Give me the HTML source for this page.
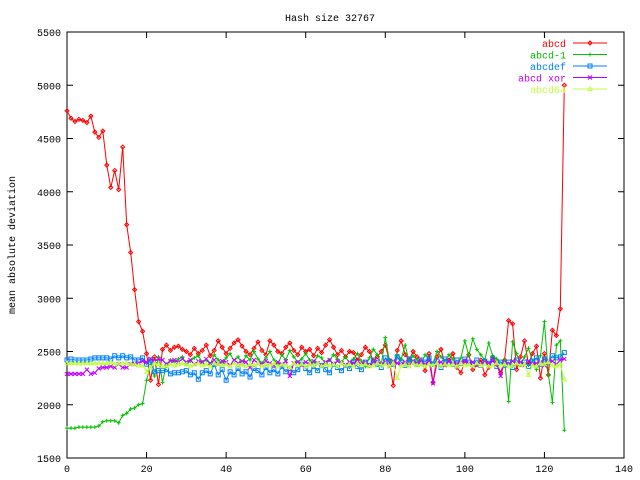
<!DOCTYPE html>
<html><head><meta charset="utf-8"><style>
body{margin:0;background:#fff}
svg{display:block;font-family:"Liberation Mono","DejaVu Sans Mono",monospace;font-size:10px}
</style></head><body>
<svg id="chart" width="640" height="480" xmlns="http://www.w3.org/2000/svg">
<text x="330" y="21" text-anchor="middle">Hash size 32767</text>
<text transform="translate(15,245) rotate(-90)" text-anchor="middle">mean absolute deviation</text>
<rect x="67" y="32" width="557" height="426" fill="none" stroke="#000"/>
<g id="axes"></g><g id="series"></g><g id="legend"></g>
</svg>
<script>
const xTicks=[0,20,40,60,80,100,120,140];
const yTicks=[1500,2000,2500,3000,3500,4000,4500,5000,5500];
const seriesNames=["abcd","abcd-1","abcdef","abcd xor","abcd64"];
const abcd=[4760,4690,4660,4680,4670,4650,4710,4560,4510,4570,4250,4040,4200,4020,4420,3690,3430,3080,2780,2690,2480,2230,2450,2190,2520,2560,2510,2540,2550,2520,2500,2470,2530,2480,2510,2560,2460,2510,2600,2540,2480,2530,2580,2610,2550,2500,2470,2530,2590,2510,2470,2600,2560,2500,2480,2540,2580,2510,2470,2540,2500,2520,2460,2530,2490,2560,2610,2540,2470,2510,2450,2500,2490,2420,2470,2540,2500,2410,2450,2500,2560,2420,2180,2510,2600,2470,2420,2500,2450,2410,2320,2480,2210,2450,2520,2380,2420,2480,2350,2300,2410,2470,2330,2380,2420,2280,2350,2450,2390,2300,2420,2790,2760,2330,2450,2600,2380,2480,2550,2250,2480,2280,2700,2650,2900,5000];
const abcd1=[1780,1780,1780,1790,1790,1790,1790,1790,1800,1840,1850,1850,1850,1830,1900,1920,1960,1970,2000,2010,2230,2380,2270,2450,2210,2380,2420,2400,2430,2450,2380,2410,2440,2460,2400,2420,2380,2470,2420,2390,2440,2480,2410,2450,2380,2460,2420,2500,2430,2390,2440,2500,2420,2380,2470,2420,2510,2450,2400,2430,2480,2420,2390,2460,2440,2380,2420,2470,2430,2400,2450,2390,2430,2480,2410,2360,2440,2520,2470,2380,2630,2420,2380,2470,2430,2560,2400,2460,2420,2380,2470,2430,2390,2500,2450,2410,2470,2430,2370,2440,2600,2460,2620,2520,2470,2420,2580,2460,2430,2390,2420,2030,2590,2480,2380,2450,2530,2410,2330,2460,2780,2280,2020,2560,2600,1760];
const abcdef=[2420,2430,2420,2420,2420,2420,2430,2440,2440,2440,2440,2430,2460,2440,2460,2440,2450,2420,2420,2440,2380,2420,2310,2320,2320,2330,2290,2300,2300,2310,2320,2280,2300,2240,2300,2320,2290,2380,2280,2330,2230,2310,2280,2340,2290,2310,2260,2340,2320,2280,2350,2300,2330,2290,2360,2310,2340,2300,2330,2380,2340,2300,2360,2320,2370,2330,2300,2380,2350,2320,2370,2340,2400,2360,2330,2400,2370,2420,2380,2350,2440,2410,2380,2450,2400,2370,2430,2400,2380,2420,2400,2440,2380,2410,2350,2430,2400,2380,2420,2390,2430,2400,2380,2420,2370,2410,2390,2430,2360,2400,2370,2400,2350,2420,2380,2400,2360,2410,2440,2380,2430,2400,2460,2440,2450,2490];
const abcdxor=[2290,2290,2290,2290,2290,2330,2290,2300,2340,2350,2350,2360,2350,2380,2350,2350,2380,2380,2390,2410,2400,2430,2410,2430,2420,2380,2410,2420,2400,2430,2400,2420,2380,2410,2400,2430,2390,2420,2380,2410,2400,2370,2420,2390,2410,2400,2350,2420,2390,2380,2410,2390,2370,2400,2380,2410,2270,2390,2400,2370,2400,2380,2410,2390,2370,2400,2420,2380,2410,2390,2370,2400,2390,2410,2380,2400,2370,2390,2410,2380,2400,2360,2410,2390,2380,2400,2370,2410,2390,2400,2380,2410,2200,2390,2400,2370,2410,2390,2380,2400,2410,2390,2400,2370,2380,2400,2390,2410,2380,2270,2400,2380,2410,2390,2400,2370,2410,2380,2390,2400,2370,2400,2410,2380,2420,2430];
const abcd64=[2390,2390,2390,2390,2390,2390,2390,2390,2390,2390,2390,2400,2380,2390,2390,2390,2380,2380,2370,2370,2310,2350,2390,2380,2360,2360,2380,2370,2380,2390,2380,2360,2380,2390,2370,2380,2360,2390,2380,2370,2380,2360,2390,2370,2380,2360,2380,2370,2390,2360,2380,2370,2390,2360,2380,2370,2350,2390,2370,2380,2360,2380,2370,2390,2360,2380,2370,2380,2360,2390,2370,2380,2360,2390,2370,2380,2360,2370,2390,2370,2380,2360,2390,2250,2370,2380,2360,2390,2370,2380,2360,2380,2370,2390,2360,2380,2370,2380,2360,2390,2370,2380,2360,2390,2370,2380,2360,2370,2390,2370,2380,2360,2370,2390,2370,2380,2280,2370,2360,2390,2380,2400,2370,2360,2380,2240];

const X0=67,X1=624,Y0=458,Y1=32;
const sx=v=>X0+(v-0)/(140-0)*(X1-X0);
const sy=v=>Y0-(v-1500)/(5500-1500)*(Y0-Y1);
const NS="http://www.w3.org/2000/svg";
function mk(tag,parent){const e=document.createElementNS(NS,tag);parent.appendChild(e);return e;}
const axes=document.getElementById('axes');
xTicks.forEach(t=>{
  const x=sx(t);
  const l=mk('path',axes);
  
  
  l.setAttribute('d',`M${x} ${Y0}v-6M${x} ${Y1}v6`);l.setAttribute('stroke','#000');
  const tx=mk('text',axes);
  
  
  tx.setAttribute('x',x);tx.setAttribute('y',Y0+14);tx.setAttribute('text-anchor','middle');tx.textContent=t;
});
yTicks.forEach(t=>{
  const y=sy(t);
  const l=mk('path',axes);
  
  
  l.setAttribute('d',`M${X0} ${y}h6M${X1} ${y}h-6`);l.setAttribute('stroke','#000');
  const tx=mk('text',axes);
  
  
  tx.setAttribute('x',X0-6);tx.setAttribute('y',y+4);tx.setAttribute('text-anchor','end');tx.textContent=t;
});
function marker(g,type,x,y,c){
  const p=mk('path',g);
  const r=2;
  let d;
  if(type==='diamond')d=`M${x-r} ${y}L${x} ${y-r}L${x+r} ${y}L${x} ${y+r}Z`;
  else if(type==='plus')d=`M${x-r} ${y}h${2*r}M${x} ${y-r}v${2*r}`;
  else if(type==='square')d=`M${x-r} ${y-r}h${2*r}v${2*r}h${-2*r}Z`;
  else if(type==='cross')d=`M${x-r} ${y-r}l${2*r} ${2*r}M${x+r} ${y-r}l${-2*r} ${2*r}`;
  else d=`M${x-r} ${y+1.5}L${x} ${y-r}L${x+r} ${y+1.5}Z`;
  p.setAttribute('d',d);p.setAttribute('fill','none');p.setAttribute('stroke',c);
  return p;
}
const seriesData=[abcd,abcd1,abcdef,abcdxor,abcd64];
const colors=["#ff0000","#00c000","#0080ff","#c000ff","#c0ff40"];
const markers=["diamond","plus","square","cross","triangle"];
const sg=document.getElementById('series');
const lg=document.getElementById('legend');
seriesData.forEach((arr,k)=>{
  const g=mk('g',sg);
  
  
  const pts=arr.map((v,i)=>sx(i).toFixed(1)+','+sy(v).toFixed(1)).join(' ');
  const pl=mk('polyline',g);
  
  
  pl.setAttribute('points',pts);pl.setAttribute('fill','none');pl.setAttribute('stroke',colors[k]);
  arr.forEach((v,i)=>{
    const m=marker(g,markers[k],sx(i),sy(v),colors[k]);
    
    
  });
  const y=43+k*11.5;
  const e=mk('g',lg);
  
  
  const t=mk('text',e);
  
  
  t.setAttribute('x',566);t.setAttribute('y',y+4);t.setAttribute('text-anchor','end');t.setAttribute('fill',colors[k]);t.textContent=seriesNames[k];
  const ln=mk('path',e);
  
  
  ln.setAttribute('d',`M573 ${y}h34`);ln.setAttribute('stroke',colors[k]);
  const mm=marker(e,markers[k],590,y,colors[k]);
  
  
});
</script>
</body></html>
